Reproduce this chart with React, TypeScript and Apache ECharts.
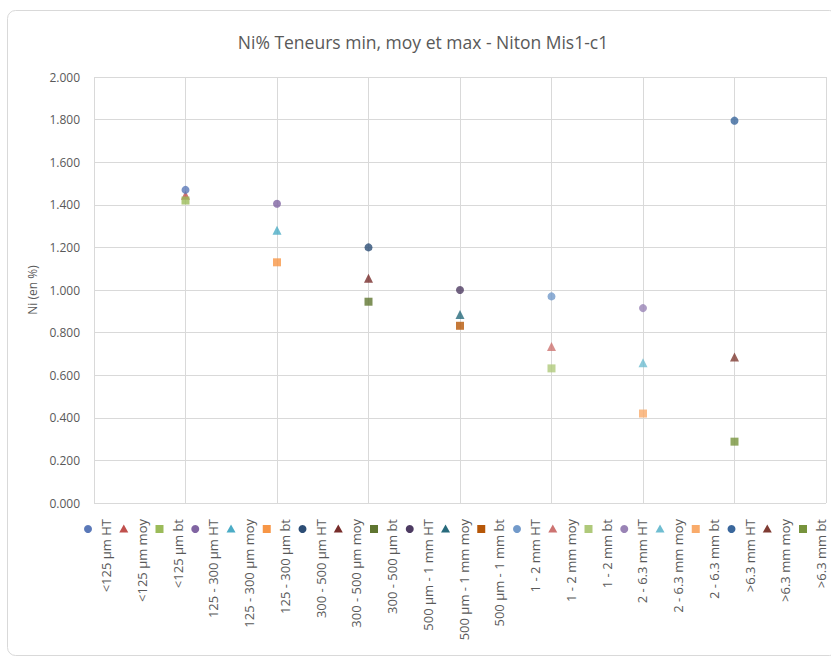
import React, { useEffect, useRef } from "react";
import * as echarts from "echarts";

const sizeClasses = ["<125 µm", "125 - 300 µm", "300 - 500 µm", "500 µm - 1 mm", "1 - 2 mm", "2 - 6.3 mm", ">6.3 mm"];
const statKinds = ["HT", "moy", "bt"];
const htValues = [1.47, 1.405, 1.2, 1.0, 0.97, 0.915, 1.795];
const moyValues = [1.445, 1.28, 1.055, 0.885, 0.735, 0.658, 0.686];
const btValues = [1.42, 1.13, 0.945, 0.832, 0.632, 0.42, 0.288];
const yTicks = [0, 0.2, 0.4, 0.6, 0.8, 1.0, 1.2, 1.4, 1.6, 1.8, 2.0];

const seriesColors = [
  "#5A78B8", "#C0504D", "#9BBB59",
  "#8064A2", "#4BACC6", "#F79646",
  "#2C4D75", "#772C2A", "#5F7530",
  "#4D3B62", "#276A7C", "#B65708",
  "#729ACA", "#CD7371", "#AFC97A",
  "#9983B5", "#6FBDD1", "#F9AB6B",
  "#3A679C", "#7F3B32", "#77933C",
];
const kindSymbols = ["circle", "triangle", "rect"];
const kindZ = [4, 2, 3];

export default function App() {
  const ref = useRef<HTMLDivElement>(null);
  useEffect(() => {
    if (!ref.current) return;
    const chart = echarts.init(ref.current, undefined, { renderer: "svg" });
    const valuesByKind = [htValues, moyValues, btValues];
    const series: any[] = [];
    const legendEls: any[] = [];
    const gray = "#595959";
    const font = "'Open Sans', 'Liberation Sans', sans-serif";
    let idx = 0;
    sizeClasses.forEach((cls, i) => {
      statKinds.forEach((kind, k) => {
        const name = `${cls} ${kind}`;
        const color = seriesColors[idx];
        series.push({
          name,
          type: "scatter",
          z: kindZ[k],
          symbol: kindSymbols[k],
          symbolSize: k === 1 ? 9 : 8,
          itemStyle: { color },
          data: [[i + 1, valuesByKind[k][i]]],
        });
        const mx = 88 + idx * 35.75;
        const my = 529;
        let marker: any;
        if (k === 0) marker = { type: "circle", shape: { cx: mx, cy: my, r: 4 }, style: { fill: color } };
        else if (k === 1)
          marker = { type: "polygon", shape: { points: [[mx, my - 4.5], [mx + 4.5, my + 3.5], [mx - 4.5, my + 3.5]] }, style: { fill: color } };
        else marker = { type: "rect", shape: { x: mx - 4, y: my - 4, width: 8, height: 8 }, style: { fill: color } };
        legendEls.push(marker);
        legendEls.push({
          type: "text",
          x: mx + 18,
          y: 519,
          rotation: Math.PI / 2,
          style: { text: name, fill: gray, font: `13px ${font}`, align: "right", verticalAlign: "middle" },
        });
        idx++;
      });
    });

    chart.setOption({
      animation: false,
      title: {
        text: "Ni% Teneurs min, moy et max - Niton Mis1-c1",
        left: 418,
        textAlign: "center",
        top: 28,
        textStyle: { color: gray, fontSize: 17.5, fontWeight: "normal", fontFamily: font },
      },
      grid: { left: 94, right: 5, top: 77, bottom: 156, containLabel: false },
      xAxis: {
        type: "value",
        min: 0,
        max: 8,
        interval: 1,
        axisLabel: { show: false },
        axisTick: { show: false },
        axisLine: { show: false },
        splitLine: { show: true, lineStyle: { color: "#d9d9d9" } },
      },
      yAxis: {
        type: "value",
        min: yTicks[0],
        max: yTicks[yTicks.length - 1],
        interval: 0.2,
        name: "Ni (en %)",
        nameLocation: "middle",
        nameRotate: 90,
        nameGap: 56,
        nameTextStyle: { color: gray, fontSize: 12, fontFamily: font },
        axisLabel: { color: gray, fontSize: 12, fontFamily: font, margin: 14, formatter: (v: number) => v.toFixed(3) },
        axisTick: { show: false },
        axisLine: { show: false },
        splitLine: { show: true, lineStyle: { color: "#d9d9d9" } },
      },
      graphic: [
        {
          type: "rect",
          shape: { x: 7.5, y: 10.5, width: 830, height: 645, r: 8 },
          style: { fill: "none", stroke: "#d9d9d9", lineWidth: 1 },
          z: -1,
        },
        ...legendEls,
      ],
      series,
    });
    return () => chart.dispose();
  }, []);
  return <div ref={ref} style={{ position: "fixed", left: 0, top: 0, width: 831, height: 659, background: "#fff" }} />;
}
